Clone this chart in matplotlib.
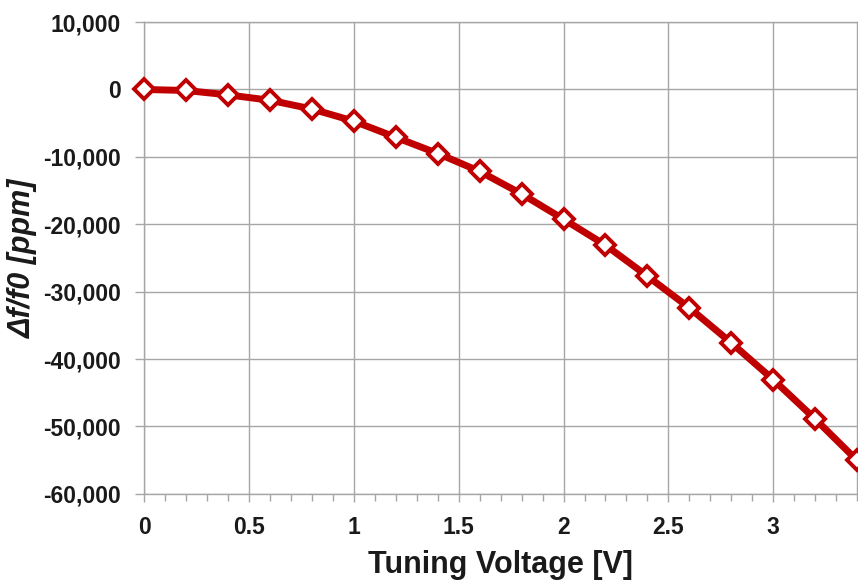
import matplotlib
matplotlib.use("Agg")
import matplotlib.pyplot as plt
from matplotlib.ticker import MultipleLocator, FuncFormatter

voltage = [0.0, 0.2, 0.4, 0.6, 0.8, 1.0, 1.2, 1.4, 1.6, 1.8, 2.0, 2.2, 2.4, 2.6, 2.8, 3.0, 3.2, 3.4]
df_ppm = [0, -150, -800, -1600, -2900, -4700, -7100, -9500, -12150, -15500, -19250,
          -23100, -27700, -32400, -37600, -43050, -48900, -55050]
x_ticks = [0, 0.5, 1, 1.5, 2, 2.5, 3]
x_tick_labels = ['0', '0.5', '1', '1.5', '2', '2.5', '3']
y_ticks = [10000, 0, -10000, -20000, -30000, -40000, -50000, -60000]

plt.rcParams['font.family'] = ['Liberation Sans', 'DejaVu Sans']
fig = plt.figure(figsize=(8.58, 5.81), dpi=100)
ax = fig.add_axes([0.168, 0.150, 0.831, 0.812])

ax.plot(voltage, df_ppm, color='#C00000', lw=5, marker='D', ms=10,
        mfc='white', mec='#C00000', mew=2.8, zorder=3, clip_on=False)

ax.set_xlim(0, 3.4)
ax.set_ylim(-60000, 10000)
ax.set_xticks(x_ticks)
ax.set_xticklabels(x_tick_labels)
ax.xaxis.set_minor_locator(MultipleLocator(0.1))
ax.set_yticks(y_ticks)
ax.yaxis.set_major_formatter(FuncFormatter(lambda v, p: f"{int(v):,}"))

ax.grid(True, which='major', color='#a6a6a6', lw=1.0)
for s in ax.spines.values():
    s.set_color('#a6a6a6')
    s.set_linewidth(1.0)
ax.tick_params(which='major', direction='out', length=5.5, color='#a6a6a6', width=1,
               labelsize=16.5)
ax.tick_params(axis='x', which='major', pad=10.5)
ax.tick_params(axis='y', which='major', length=6.5, pad=10)
ax.tick_params(which='minor', direction='out', length=5, color='#a6a6a6', width=1)
ax.tick_params(axis='y', which='minor', left=False)
for lbl in ax.get_xticklabels() + ax.get_yticklabels():
    lbl.set_fontweight('bold')
    lbl.set_color('#1a1a1a')

ax.set_xlabel('Tuning Voltage [V]', fontsize=22, fontweight='bold', color='#1a1a1a', labelpad=8)
ax.set_ylabel('Δf/f0 [ppm]', fontsize=22, fontweight='bold', fontstyle='italic', color='#1a1a1a')
ax.yaxis.set_label_coords(-0.149, 0.5)

fig.savefig('out.png', dpi=100)
